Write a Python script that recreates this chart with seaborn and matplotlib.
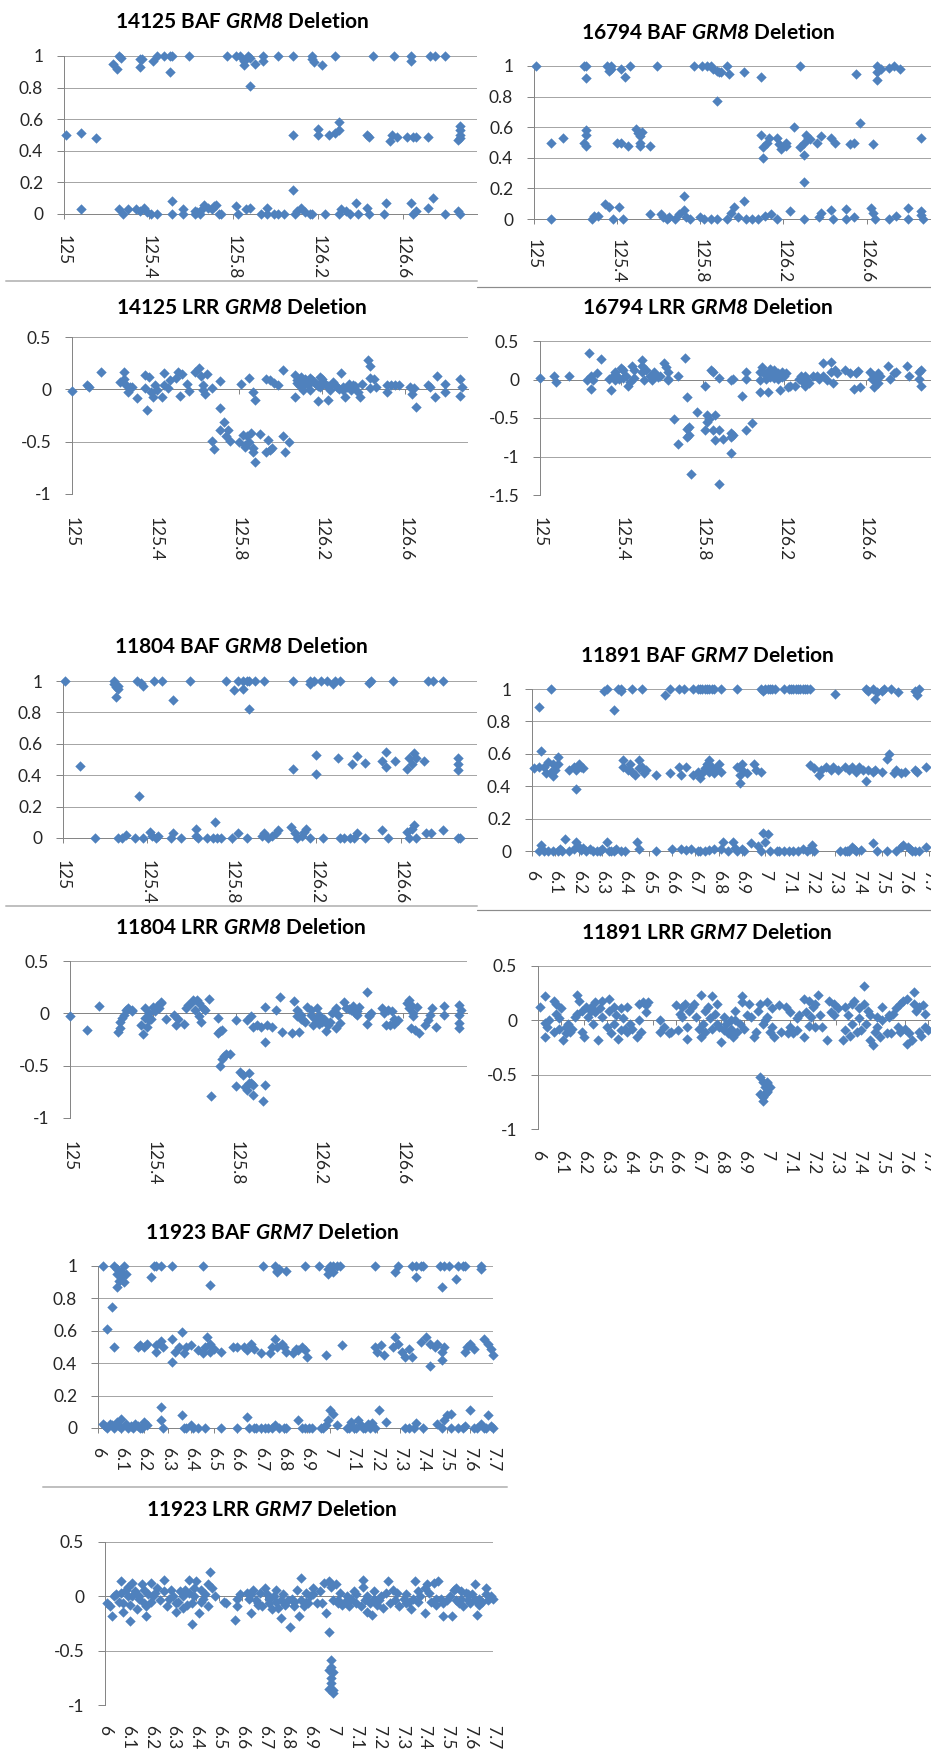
import matplotlib
matplotlib.use("Agg")
import matplotlib.pyplot as plt
import seaborn as sns
import pandas as pd
from matplotlib.lines import Line2D

# ---------------------------------------------------------------- data
# genomic position (Mb) and B-allele frequency / log R ratio per probe

GRM8_TICKS = ["125", "125.4", "125.8", "126.2", "126.6"]
GRM7_TICKS = ["6", "6.1", "6.2", "6.3", "6.4", "6.5", "6.6", "6.7", "6.8",
              "6.9", "7", "7.1", "7.2", "7.3", "7.4", "7.5", "7.6", "7.7"]
BAF_TICKS = ["0", "0.2", "0.4", "0.6", "0.8", "1"]
LRR_TICKS = ["-1", "-0.5", "0", "0.5"]
LRR_TICKS_WIDE = ["-1.5", "-1", "-0.5", "0", "0.5"]

BAF_14125 = [
    (125.23, 0.95), (125.25, 0.92), (125.26, 1.0), (125.27, 0.99), (125.36, 0.98), (125.36, 0.93),
    (125.37, 0.98), (125.42, 0.97), (125.44, 1.0), (125.47, 1.0), (125.5, 0.9), (125.5, 1.0),
    (125.51, 1.0), (125.59, 1.0), (125.77, 1.0), (125.81, 1.0), (125.83, 1.0), (125.85, 0.97),
    (125.85, 0.94), (125.87, 1.0), (125.88, 0.99), (125.9, 0.95), (125.88, 0.81), (125.94, 1.0),
    (125.94, 0.97), (126.01, 1.0), (126.08, 1.0), (126.17, 1.0), (126.17, 0.98), (126.18, 0.96),
    (126.22, 0.94), (126.28, 1.0), (126.46, 1.0), (126.56, 1.0), (126.64, 1.0), (126.64, 0.97),
    (126.73, 1.0), (126.75, 1.0), (126.8, 1.0),
    (125.01, 0.5), (125.08, 0.51), (125.15, 0.48), (126.08, 0.5), (126.2, 0.54), (126.2, 0.5),
    (126.25, 0.5), (126.28, 0.51), (126.3, 0.58), (126.3, 0.53), (126.43, 0.5), (126.44, 0.49),
    (126.54, 0.46), (126.55, 0.5), (126.57, 0.49), (126.62, 0.49), (126.65, 0.49), (126.66, 0.49),
    (126.72, 0.49), (126.87, 0.56), (126.87, 0.53), (126.87, 0.5), (126.87, 0.48), (126.86, 0.47),
    (125.08, 0.03), (126.08, 0.15), (125.26, 0.03), (125.28, 0.0), (125.3, 0.03), (125.34, 0.03),
    (125.36, 0.02), (125.38, 0.04), (125.39, 0.01), (125.41, 0.0), (125.44, 0.0), (125.51, 0.0),
    (125.51, 0.08), (125.56, 0.0), (125.56, 0.03), (125.62, 0.0), (125.62, 0.02), (125.63, 0.01),
    (125.64, 0.0), (125.65, 0.03), (125.66, 0.06), (125.68, 0.04), (125.7, 0.03), (125.71, 0.05),
    (125.72, 0.06), (125.73, 0.0), (125.74, 0.0), (125.81, 0.05), (125.82, 0.0), (125.86, 0.03),
    (125.88, 0.04), (125.93, 0.0), (125.96, 0.04), (125.96, 0.0), (125.99, 0.0), (126.01, 0.0),
    (126.04, 0.0), (126.09, 0.0), (126.1, 0.02), (126.12, 0.04), (126.14, 0.01), (126.16, 0.0),
    (126.17, 0.0), (126.23, 0.0), (126.3, 0.0), (126.31, 0.03), (126.33, 0.02), (126.35, 0.0),
    (126.38, 0.07), (126.39, 0.0), (126.43, 0.04), (126.44, 0.0), (126.51, 0.0), (126.52, 0.07),
    (126.64, 0.07), (126.65, 0.0), (126.66, 0.02), (126.72, 0.04), (126.74, 0.1), (126.8, 0.0),
    (126.86, 0.02), (126.87, 0.0),
]

BAF_16794 = [
    (125.01, 1.0), (125.24, 1.0), (125.25, 1.0), (125.25, 0.92), (125.35, 1.0), (125.36, 0.97),
    (125.37, 1.0), (125.37, 0.98), (125.42, 0.98), (125.44, 0.93), (125.46, 1.0), (125.59, 1.0),
    (125.77, 1.0), (125.81, 1.0), (125.83, 1.0), (125.85, 1.0), (125.86, 0.98), (125.88, 0.97),
    (125.89, 0.96), (125.9, 0.96), (125.88, 0.77), (125.93, 1.0), (125.94, 0.95), (126.01, 0.96),
    (126.09, 0.93), (126.28, 1.0), (126.55, 0.95), (126.65, 1.0), (126.65, 0.96), (126.67, 0.98),
    (126.65, 0.91), (126.71, 0.99), (126.73, 1.0), (126.76, 0.98),
    (125.08, 0.5), (125.14, 0.53), (125.25, 0.58), (125.25, 0.55), (125.24, 0.5), (125.25, 0.48),
    (125.4, 0.5), (125.42, 0.5), (125.45, 0.48), (125.49, 0.59), (125.5, 0.56), (125.51, 0.54),
    (125.52, 0.57), (125.51, 0.5), (125.51, 0.48), (125.56, 0.48), (126.09, 0.55), (126.1, 0.47),
    (126.1, 0.4), (126.12, 0.5), (126.13, 0.53), (126.17, 0.53), (126.18, 0.49), (126.19, 0.46),
    (126.21, 0.48), (126.21, 0.5), (126.25, 0.6), (126.28, 0.47), (126.3, 0.5), (126.3, 0.42),
    (126.31, 0.55), (126.32, 0.53), (126.33, 0.52), (126.36, 0.5), (126.38, 0.54), (126.3, 0.24),
    (126.43, 0.53), (126.45, 0.5), (126.52, 0.49), (126.54, 0.5), (126.57, 0.63), (126.63, 0.49),
    (126.86, 0.53),
    (125.08, 0.0), (125.28, 0.0), (125.29, 0.02), (125.31, 0.02), (125.34, 0.1), (125.36, 0.08),
    (125.38, 0.0), (125.41, 0.08), (125.43, 0.0), (125.56, 0.03), (125.61, 0.03), (125.62, 0.015),
    (125.64, 0.0), (125.65, 0.015), (125.68, 0.0), (125.7, 0.03), (125.72, 0.06), (125.72, 0.15),
    (125.73, 0.015), (125.75, 0.0), (125.8, 0.015), (125.82, 0.0), (125.85, 0.0), (125.88, 0.0),
    (125.93, 0.0), (125.95, 0.04), (125.96, 0.08), (125.98, 0.015), (126.01, 0.12), (126.02, 0.0),
    (126.05, 0.0), (126.08, 0.0), (126.11, 0.02), (126.14, 0.03), (126.17, 0.0), (126.23, 0.05),
    (126.3, 0.0), (126.37, 0.015), (126.38, 0.04), (126.43, 0.06), (126.44, 0.0), (126.5, 0.065),
    (126.5, 0.0), (126.54, 0.015), (126.62, 0.075), (126.63, 0.04), (126.64, 0.0), (126.71, 0.0),
    (126.74, 0.02), (126.8, 0.075), (126.8, 0.0), (126.86, 0.055), (126.86, 0.025), (126.87, 0.0),
]

LRR_14125 = [
    (125.0, -0.02), (125.07, 0.04), (125.08, 0.02), (125.14, 0.17), (125.23, 0.07), (125.25, 0.17),
    (125.25, 0.1), (125.26, 0.04), (125.27, -0.03), (125.28, 0.02), (125.29, 0.02), (125.31, -0.08),
    (125.35, 0.14), (125.35, 0.01), (125.36, -0.2), (125.37, 0.12), (125.38, -0.03), (125.39, -0.07),
    (125.4, 0.04), (125.41, -0.01), (125.43, -0.07), (125.44, 0.16), (125.44, 0.04), (125.46, 0.01),
    (125.47, 0.09), (125.5, 0.11), (125.51, 0.17), (125.52, -0.06), (125.53, 0.15), (125.55, 0.05),
    (125.56, -0.02), (125.59, 0.17), (125.61, 0.2), (125.62, 0.13), (125.63, 0.04), (125.63, -0.01),
    (125.64, -0.04), (125.65, 0.15), (125.67, 0.01), (125.71, 0.08), (125.71, -0.18),
    (125.67, -0.49), (125.68, -0.57), (125.71, -0.39), (125.73, -0.31), (125.74, -0.45), (125.75, -0.39),
    (125.76, -0.49), (125.8, -0.5), (125.82, -0.44), (125.83, -0.53), (125.83, -0.55), (125.84, -0.45),
    (125.85, -0.5), (125.86, -0.42), (125.87, -0.56), (125.87, -0.6), (125.88, -0.69), (125.9, -0.43),
    (125.94, -0.48), (125.93, -0.6), (125.95, -0.58), (125.96, -0.56), (126.01, -0.45), (126.02, -0.6),
    (126.04, -0.5),
    (125.81, 0.05), (125.85, 0.11), (125.87, -0.03), (125.88, -0.1), (125.93, 0.1), (125.95, 0.09),
    (125.97, 0.06), (125.99, 0.04), (126.01, 0.18),
    (126.07, 0.14), (126.08, 0.09), (126.07, -0.07), (126.09, 0.04), (126.1, 0.12), (126.11, -0.01),
    (126.12, 0.1), (126.13, 0.04), (126.14, -0.01), (126.15, 0.09), (126.17, 0.05), (126.18, -0.11),
    (126.19, 0.12), (126.19, 0.02), (126.2, 0.07), (126.22, 0.04), (126.23, -0.1), (126.24, -0.01),
    (126.26, 0.04), (126.27, 0.02), (126.29, 0.16), (126.3, -0.01), (126.31, -0.07), (126.32, 0.02),
    (126.34, -0.01), (126.35, 0.04), (126.38, -0.07), (126.39, 0.05), (126.42, 0.28), (126.43, 0.22),
    (126.43, 0.11), (126.43, 0.01), (126.45, 0.1), (126.46, 0.02), (126.51, 0.04), (126.51, -0.03),
    (126.53, 0.04), (126.55, 0.04), (126.57, 0.04), (126.62, 0.02), (126.63, -0.04), (126.64, 0.01),
    (126.65, -0.17), (126.71, 0.04), (126.72, 0.02), (126.74, -0.07), (126.75, 0.13), (126.79, 0.05),
    (126.79, -0.03), (126.86, 0.1), (126.86, -0.06), (126.87, 0.02),
    (126.08, 0.06), (126.1, 0.08), (126.12, 0.06), (126.14, 0.11), (126.16, 0.07), (126.18, 0.03),
    (126.2, 0.1), (126.21, 0.06), (126.23, 0.03), (126.25, 0.07), (126.28, 0.0), (126.3, 0.02),
    (126.33, 0.05), (126.36, 0.03), (126.37, -0.03),
]

LRR_16794 = [
    (125.0, 0.02), (125.07, 0.04), (125.08, -0.03), (125.14, 0.04), (125.23, -0.01), (125.24, 0.34),
    (125.25, 0.05), (125.25, -0.12), (125.26, -0.01), (125.28, 0.08), (125.3, 0.26),
    (125.34, 0.01), (125.35, -0.14), (125.36, 0.05), (125.37, -0.01), (125.37, 0.1), (125.38, 0.04),
    (125.39, 0.01), (125.4, 0.15), (125.41, 0.12), (125.41, 0.02), (125.42, 0.05), (125.43, -0.08),
    (125.44, -0.03), (125.45, 0.17), (125.46, 0.12), (125.46, 0.02), (125.5, 0.25), (125.5, 0.18),
    (125.5, 0.1), (125.51, 0.0), (125.52, 0.12), (125.54, 0.05), (125.55, 0.0), (125.56, 0.1),
    (125.58, 0.03), (125.59, 0.05), (125.61, 0.21), (125.62, 0.16), (125.63, 0.1), (125.63, 0.01),
    (125.63, -0.01), (125.68, 0.04),
    (125.71, 0.28), (125.66, -0.51), (125.68, -0.84), (125.72, -0.23), (125.72, -0.64), (125.73, -0.72),
    (125.73, -0.62), (125.72, -0.75), (125.74, -1.23), (125.77, -0.42), (125.81, -0.08), (125.81, -0.66),
    (125.82, -0.46), (125.82, -0.55), (125.83, -0.51), (125.84, 0.12), (125.85, 0.1), (125.85, -0.66),
    (125.86, -0.79), (125.86, -0.46), (125.88, 0.02), (125.88, -0.66), (125.88, -1.36), (125.9, -0.77),
    (125.94, -0.01), (125.95, 0.01), (125.94, -0.7), (125.94, -0.75), (125.95, -0.72), (125.94, -0.96),
    (125.99, -0.21), (126.01, 0.1), (126.01, 0.01), (126.01, -0.66), (126.04, -0.56),
    (126.08, 0.0), (126.08, 0.1), (126.08, -0.16), (126.09, 0.16), (126.1, 0.08), (126.11, 0.01),
    (126.12, -0.16), (126.12, 0.1), (126.13, 0.14), (126.14, 0.08), (126.15, 0.12), (126.16, 0.05),
    (126.17, 0.01), (126.18, -0.13), (126.19, 0.1), (126.2, 0.05), (126.21, 0.08), (126.22, -0.1),
    (126.23, -0.08), (126.25, -0.08), (126.27, 0.01), (126.28, 0.04), (126.29, -0.03), (126.3, -0.08),
    (126.3, 0.05), (126.31, -0.01), (126.32, -0.05), (126.34, 0.05), (126.36, 0.04), (126.37, 0.01),
    (126.39, 0.21), (126.39, 0.05), (126.41, -0.01), (126.43, 0.23), (126.43, 0.1), (126.44, -0.05),
    (126.45, 0.12), (126.46, 0.08), (126.5, 0.12), (126.52, 0.08), (126.54, -0.12), (126.55, 0.08),
    (126.56, 0.11), (126.57, -0.1), (126.62, 0.1), (126.63, 0.01), (126.64, -0.1), (126.65, 0.05),
    (126.65, -0.03), (126.66, 0.08), (126.67, 0.04), (126.71, 0.17), (126.72, 0.01), (126.74, 0.08),
    (126.75, 0.1), (126.8, 0.17), (126.81, 0.04), (126.86, 0.1), (126.86, 0.01), (126.87, -0.08),
    (126.87, 0.12),
    (126.11, 0.06), (126.13, 0.03), (126.15, 0.02), (126.17, 0.09), (126.19, 0.03), (126.64, 0.04),
    (126.66, -0.05),
]

BAF_11804 = [
    (125.01, 1.0), (125.24, 1.0), (125.24, 0.98), (125.25, 0.96), (125.26, 0.95), (125.25, 0.9),
    (125.26, 0.97), (125.35, 1.0), (125.37, 0.99), (125.38, 0.97), (125.43, 1.0), (125.47, 1.0),
    (125.52, 0.88), (125.6, 1.0), (125.77, 1.0), (125.81, 0.94), (125.83, 1.0), (125.85, 0.95),
    (125.85, 1.0), (125.87, 1.0), (125.88, 1.0), (125.91, 1.0), (125.95, 1.0), (125.88, 0.82),
    (126.09, 1.0), (126.17, 1.0), (126.17, 0.98), (126.19, 1.0), (126.22, 1.0), (126.25, 1.0),
    (126.28, 0.98), (126.29, 1.0), (126.31, 1.0), (126.45, 0.99), (126.46, 1.0), (126.56, 1.0),
    (126.73, 1.0), (126.75, 1.0), (126.8, 1.0),
    (125.08, 0.46), (126.09, 0.44), (126.2, 0.53), (126.2, 0.41), (126.3, 0.51), (126.37, 0.47),
    (126.39, 0.52), (126.43, 0.48), (126.51, 0.49), (126.53, 0.55), (126.53, 0.45), (126.57, 0.49),
    (126.63, 0.44), (126.64, 0.51), (126.65, 0.47), (126.66, 0.54), (126.67, 0.51), (126.71, 0.49),
    (126.87, 0.51), (126.87, 0.47), (126.87, 0.43), (125.36, 0.27),
    (125.15, 0.0), (125.26, 0.0), (125.28, 0.0), (125.3, 0.02), (125.34, 0.0), (125.38, 0.0),
    (125.41, 0.04), (125.42, 0.01), (125.44, 0.0), (125.45, 0.01), (125.51, 0.0), (125.52, 0.03),
    (125.56, 0.0), (125.63, 0.06), (125.63, 0.01), (125.64, 0.0), (125.68, 0.0), (125.71, 0.0),
    (125.72, 0.1), (125.73, 0.0), (125.75, 0.0), (125.8, 0.0), (125.83, 0.03), (125.87, 0.0),
    (125.94, 0.01), (125.95, 0.03), (125.97, 0.0), (125.99, 0.01), (126.01, 0.03), (126.02, 0.05),
    (126.08, 0.07), (126.1, 0.03), (126.11, 0.0), (126.13, 0.01), (126.14, 0.04), (126.15, 0.06),
    (126.17, 0.0), (126.23, 0.0), (126.31, 0.0), (126.33, 0.0), (126.36, 0.0), (126.38, 0.0),
    (126.39, 0.03), (126.43, 0.0), (126.51, 0.05), (126.54, 0.0), (126.63, 0.04), (126.64, 0.0),
    (126.65, 0.06), (126.66, 0.08), (126.67, 0.0), (126.72, 0.03), (126.74, 0.03), (126.8, 0.05),
    (126.87, 0.0), (126.88, 0.0),
]

BAF_11891 = [
    (6.03, 0.89), (6.08, 1.0), (6.31, 0.99), (6.32, 1.0), (6.35, 0.87), (6.37, 1.0), (6.38, 1.0),
    (6.38, 0.99), (6.43, 1.0), (6.47, 1.0), (6.57, 0.96), (6.59, 1.0), (6.63, 1.0), (6.65, 1.0),
    (6.69, 1.0), (6.71, 1.0), (6.73, 1.0), (6.74, 1.0), (6.76, 1.0), (6.77, 1.0), (6.78, 1.0),
    (6.81, 1.0), (6.88, 1.0), (6.98, 1.0), (6.99, 0.99), (7.0, 1.0), (7.03, 1.0), (7.04, 1.0),
    (7.08, 1.0), (7.1, 1.0), (7.11, 1.0), (7.13, 1.0), (7.14, 1.0), (7.16, 1.0), (7.17, 1.0),
    (7.19, 1.0), (7.3, 0.97), (7.43, 1.0), (7.44, 0.99), (7.46, 1.0), (7.47, 0.94), (7.48, 0.98),
    (7.5, 0.99), (7.51, 1.0), (7.54, 1.0), (7.57, 0.98), (7.64, 0.99), (7.65, 0.96), (7.66, 1.0),
    (6.72, 1.0), (6.75, 1.0), (7.12, 1.0), (7.15, 1.0), (7.18, 1.0), (7.01, 1.0), (7.02, 1.0),
    (6.01, 0.51), (6.04, 0.62), (6.03, 0.52), (6.05, 0.52), (6.06, 0.48), (6.07, 0.55), (6.08, 0.49),
    (6.09, 0.46), (6.09, 0.54), (6.1, 0.5), (6.11, 0.58), (6.11, 0.54), (6.16, 0.5), (6.18, 0.52),
    (6.19, 0.5), (6.19, 0.38), (6.2, 0.54), (6.21, 0.52), (6.22, 0.51),
    (6.39, 0.56), (6.39, 0.52), (6.41, 0.5), (6.42, 0.54), (6.43, 0.49), (6.44, 0.47), (6.46, 0.51),
    (6.46, 0.56), (6.47, 0.52), (6.48, 0.48), (6.49, 0.5), (6.53, 0.47), (6.59, 0.48), (6.63, 0.52),
    (6.64, 0.47), (6.66, 0.52),
    (6.69, 0.47), (6.71, 0.49), (6.72, 0.45), (6.73, 0.48), (6.74, 0.51), (6.75, 0.54), (6.76, 0.49),
    (6.76, 0.56), (6.77, 0.52), (6.78, 0.48), (6.79, 0.51), (6.8, 0.54), (6.81, 0.49),
    (6.88, 0.52), (6.89, 0.47), (6.89, 0.42), (6.9, 0.54), (6.9, 0.5), (6.92, 0.48), (6.95, 0.54),
    (6.96, 0.5), (6.98, 0.49),
    (7.19, 0.53), (7.21, 0.51), (7.23, 0.47), (7.24, 0.5), (7.26, 0.52), (7.28, 0.5), (7.29, 0.52),
    (7.31, 0.5), (7.34, 0.52), (7.36, 0.5), (7.37, 0.52), (7.39, 0.49), (7.4, 0.52), (7.42, 0.5),
    (7.43, 0.43), (7.44, 0.5), (7.46, 0.49), (7.47, 0.5), (7.5, 0.49), (7.52, 0.57), (7.53, 0.6),
    (7.55, 0.48), (7.56, 0.5), (7.58, 0.48), (7.6, 0.49), (7.64, 0.5), (7.65, 0.49), (7.69, 0.52),
    (6.04, 0.035), (6.03, 0.0), (6.07, 0.0), (6.09, 0.0), (6.11, 0.0), (6.12, 0.015), (6.14, 0.076),
    (6.16, 0.0), (6.18, 0.015), (6.19, 0.056), (6.2, 0.025), (6.21, 0.004), (6.23, 0.0), (6.25, 0.015),
    (6.26, 0.0), (6.28, 0.0), (6.29, 0.0), (6.32, 0.056), (6.34, 0.0), (6.35, 0.0), (6.36, 0.015),
    (6.38, 0.0), (6.4, 0.0), (6.45, 0.056), (6.46, 0.015), (6.53, 0.0), (6.6, 0.015), (6.64, 0.015),
    (6.66, 0.008), (6.71, 0.0), (6.74, 0.0), (6.76, 0.008), (6.81, 0.015), (6.82, 0.056), (6.84, 0.0),
    (6.86, 0.056), (6.88, 0.0), (6.9, 0.015), (6.91, 0.0), (6.94, 0.05), (6.98, 0.0), (6.99, 0.11),
    (7.0, 0.056), (7.01, 0.107), (7.02, 0.0), (7.05, 0.0), (7.08, 0.0), (7.1, 0.0), (7.14, 0.0),
    (7.16, 0.015), (7.18, 0.0), (7.2, 0.04), (7.21, 0.0), (7.32, 0.0), (7.35, 0.0), (7.37, 0.025),
    (7.39, 0.0), (7.41, 0.008), (7.46, 0.05), (7.48, 0.0), (7.52, 0.0), (7.56, 0.0), (7.58, 0.025),
    (7.59, 0.04), (7.61, 0.025), (7.63, 0.0), (7.66, 0.0), (7.69, 0.025),
    (6.05, 0.0), (6.13, 0.0), (6.22, 0.02), (6.3, 0.01), (6.33, 0.0), (6.68, 0.01), (6.72, 0.0),
    (6.78, 0.01), (6.87, 0.02), (6.97, 0.03), (7.06, 0.0), (7.12, 0.0), (7.19, 0.01), (7.34, 0.0),
    (7.36, 0.0), (7.38, 0.01), (7.62, 0.01), (7.64, 0.0),
]

LRR_11804 = [
    (125.0, -0.03), (125.08, -0.16), (125.14, 0.07), (125.23, -0.18), (125.24, -0.14), (125.24, -0.08),
    (125.25, -0.04), (125.26, -0.02), (125.27, 0.03), (125.28, 0.05), (125.3, 0.02), (125.3, 0.03),
    (125.34, -0.11), (125.35, -0.2), (125.36, 0.05), (125.36, -0.04), (125.37, -0.13), (125.38, -0.06),
    (125.38, 0.0), (125.39, -0.05), (125.4, 0.06), (125.41, 0.02), (125.42, 0.07), (125.43, 0.05),
    (125.44, 0.1), (125.44, 0.11), (125.46, -0.05),
    (125.5, -0.02), (125.51, -0.11), (125.52, -0.05), (125.55, -0.1), (125.56, 0.05), (125.57, 0.08),
    (125.58, 0.1), (125.59, 0.13), (125.6, 0.03), (125.61, 0.13), (125.62, 0.1), (125.62, -0.03),
    (125.63, -0.08), (125.64, 0.05), (125.65, 0.03), (125.67, 0.14),
    (125.68, -0.79), (125.71, -0.04), (125.71, -0.19), (125.72, -0.17), (125.73, -0.16), (125.72, -0.5),
    (125.73, -0.44), (125.74, -0.41), (125.75, -0.39), (125.77, -0.39), (125.8, -0.06), (125.8, -0.69),
    (125.82, -0.56), (125.83, -0.59), (125.84, -0.7), (125.85, -0.73), (125.86, -0.57), (125.86, -0.67),
    (125.87, -0.67), (125.88, -0.78), (125.88, -0.68), (125.85, -0.06), (125.87, -0.03), (125.88, -0.13),
    (125.9, -0.11), (125.92, -0.13), (125.93, -0.84), (125.94, -0.68), (125.94, -0.27), (125.94, 0.06),
    (125.95, -0.11), (125.97, -0.13), (125.99, 0.03), (126.01, 0.16), (126.02, -0.18),
    (126.07, -0.19), (126.08, 0.12), (126.09, 0.03), (126.1, -0.18), (126.11, -0.02), (126.11, -0.05),
    (126.13, -0.08), (126.14, 0.06), (126.16, 0.03), (126.16, -0.02), (126.17, -0.11), (126.18, -0.05),
    (126.19, 0.05), (126.2, -0.02), (126.2, -0.1), (126.21, -0.08), (126.23, -0.17), (126.24, -0.11),
    (126.25, -0.08), (126.28, -0.14), (126.28, 0.05), (126.29, -0.02), (126.3, -0.09), (126.32, 0.11),
    (126.33, 0.05), (126.35, 0.03), (126.36, 0.07), (126.37, 0.0), (126.38, -0.02), (126.39, 0.06),
    (126.43, 0.2), (126.43, -0.1), (126.44, -0.02), (126.44, -0.03), (126.45, 0.0), (126.5, 0.05),
    (126.51, 0.0), (126.52, -0.11), (126.53, 0.03), (126.54, -0.11), (126.56, -0.05), (126.56, -0.1),
    (126.58, -0.06), (126.63, 0.13), (126.64, -0.14), (126.64, 0.08), (126.65, 0.0), (126.66, -0.16),
    (126.67, 0.06), (126.68, -0.19), (126.71, -0.11), (126.72, -0.06), (126.73, -0.02), (126.74, 0.05),
    (126.76, -0.13), (126.8, 0.07), (126.8, -0.02), (126.87, 0.08), (126.87, -0.02), (126.87, -0.09),
    (126.87, -0.14), (126.88, 0.03),
    (126.09, -0.03), (126.12, -0.06), (126.22, -0.05), (126.26, 0.0), (126.34, 0.04), (126.38, 0.02),
    (126.55, 0.02), (126.62, 0.1), (126.63, 0.05), (126.65, -0.03),
]

LRR_11891 = [
    (6.01, 0.12), (6.03, 0.22), (6.03, -0.02), (6.03, -0.15), (6.04, -0.06), (6.05, 0.0), (6.07, -0.11),
    (6.07, 0.18), (6.08, 0.06), (6.08, 0.15), (6.09, -0.08), (6.09, 0.02), (6.1, 0.11), (6.11, -0.18),
    (6.12, -0.12), (6.12, -0.06), (6.13, -0.03), (6.14, -0.11), (6.15, -0.08), (6.16, 0.03), (6.17, 0.23),
    (6.17, 0.06), (6.18, 0.18), (6.19, -0.11), (6.19, 0.09), (6.2, -0.15), (6.21, 0.12), (6.22, 0.03),
    (6.23, 0.09), (6.23, 0.12), (6.24, -0.03), (6.25, 0.08), (6.25, 0.17), (6.26, -0.18), (6.27, 0.11),
    (6.28, 0.18), (6.28, 0.03), (6.3, -0.06), (6.31, 0.09), (6.31, 0.2), (6.32, -0.12), (6.33, 0.12),
    (6.33, -0.03), (6.34, 0.05), (6.35, -0.17), (6.36, -0.09), (6.36, 0.11), (6.37, 0.02), (6.38, -0.08),
    (6.39, 0.12), (6.39, -0.11), (6.4, -0.03), (6.41, -0.08), (6.43, -0.15), (6.44, 0.0), (6.44, 0.15),
    (6.45, -0.11), (6.46, 0.17), (6.47, 0.08), (6.47, 0.14), (6.48, 0.17), (6.53, 0.0), (6.53, -0.11),
    (6.55, -0.06), (6.57, -0.12), (6.58, -0.11), (6.6, 0.14), (6.61, -0.09), (6.62, 0.06), (6.63, 0.12),
    (6.63, 0.03), (6.64, 0.15), (6.65, -0.06), (6.65, -0.17), (6.66, 0.09), (6.67, 0.12), (6.68, 0.15),
    (6.69, 0.03), (6.7, -0.08), (6.71, -0.15), (6.71, 0.23), (6.72, -0.03), (6.73, 0.09), (6.73, -0.11),
    (6.74, 0.12), (6.75, 0.02), (6.76, -0.08), (6.76, 0.22), (6.77, 0.06), (6.78, 0.15), (6.78, -0.03),
    (6.79, -0.06), (6.8, -0.2), (6.81, -0.09), (6.81, 0.03), (6.82, -0.03), (6.83, -0.12), (6.84, -0.08),
    (6.84, 0.0), (6.85, -0.15), (6.86, 0.09), (6.86, 0.0), (6.87, -0.11), (6.88, -0.03), (6.89, 0.17),
    (6.89, 0.22), (6.9, -0.08), (6.91, 0.05), (6.92, 0.15), (6.93, 0.03), (6.94, -0.15), (6.95, -0.11),
    (6.96, 0.09), (6.97, 0.15), (6.98, -0.03), (6.99, 0.0), (7.0, 0.17), (7.0, 0.03), (7.01, -0.11),
    (7.02, 0.11), (7.02, -0.06), (7.03, -0.15), (7.05, 0.14), (7.06, -0.11), (7.08, 0.12), (7.09, -0.12),
    (7.1, -0.06), (7.1, 0.08), (7.11, -0.12), (7.13, -0.09), (7.13, 0.02), (7.14, 0.05), (7.16, 0.2),
    (7.16, -0.15), (7.17, 0.08), (7.18, -0.05), (7.18, 0.18), (7.19, 0.03), (7.2, 0.12), (7.21, -0.06),
    (7.21, 0.15), (7.22, 0.23), (7.23, 0.05), (7.24, -0.06), (7.26, -0.18), (7.27, 0.18), (7.28, 0.08),
    (7.29, 0.05), (7.29, 0.15), (7.31, 0.11), (7.33, -0.18), (7.34, 0.12), (7.34, -0.09), (7.35, 0.05),
    (7.36, -0.14), (7.37, 0.15), (7.37, -0.03), (7.38, 0.18), (7.39, -0.11), (7.4, 0.02), (7.4, 0.11),
    (7.41, -0.09), (7.42, 0.32), (7.42, 0.15), (7.43, -0.03), (7.44, 0.09), (7.45, 0.05), (7.45, -0.18),
    (7.46, -0.23), (7.47, -0.11), (7.48, -0.06), (7.48, 0.03), (7.49, -0.15), (7.5, 0.0), (7.5, 0.12),
    (7.52, -0.12), (7.53, 0.05), (7.53, 0.03), (7.54, -0.12), (7.55, 0.06), (7.56, 0.11), (7.57, -0.06),
    (7.58, 0.15), (7.58, -0.11), (7.59, 0.18), (7.6, -0.08), (7.61, -0.22), (7.61, 0.2), (7.62, -0.12),
    (7.63, -0.18), (7.64, 0.15), (7.64, 0.26), (7.65, 0.09), (7.66, 0.12), (7.66, -0.11), (7.67, -0.14),
    (7.68, 0.14), (7.69, 0.06), (7.69, -0.06), (7.7, -0.09),
    (6.97, -0.52), (6.98, -0.57), (6.99, -0.61), (7.0, -0.65), (6.97, -0.68), (6.98, -0.71),
    (6.98, -0.74), (6.99, -0.68), (7.0, -0.57), (7.0, -0.58), (7.01, -0.61), (7.0, -0.66),
]

BAF_11923 = [
    (6.02, 1.0), (6.07, 1.0), (6.08, 0.98), (6.08, 0.95), (6.09, 0.91), (6.08, 0.87), (6.1, 0.93),
    (6.1, 0.96), (6.11, 1.0), (6.12, 0.95), (6.11, 0.9), (6.23, 0.93), (6.24, 1.0), (6.25, 1.0),
    (6.27, 1.0), (6.32, 1.0), (6.45, 1.0), (6.48, 0.88), (6.71, 1.0), (6.76, 1.0), (6.77, 0.97),
    (6.77, 0.96), (6.78, 0.98), (6.81, 0.97), (6.89, 1.0), (6.95, 1.0), (6.99, 0.95), (6.99, 0.98),
    (7.0, 1.0), (7.01, 0.96), (7.01, 1.0), (7.03, 1.0), (7.04, 1.0), (7.19, 1.0), (7.28, 0.96),
    (7.29, 1.0), (7.35, 1.0), (7.37, 0.93), (7.37, 1.0), (7.39, 1.0), (7.4, 1.0), (7.47, 1.0),
    (7.48, 0.87), (7.49, 1.0), (7.51, 1.0), (7.54, 0.92), (7.55, 1.0), (7.57, 1.0), (7.58, 1.0),
    (7.65, 1.0), (7.65, 0.98),
    (6.04, 0.61), (6.06, 0.75), (6.07, 0.5), (6.17, 0.5), (6.18, 0.51), (6.2, 0.5), (6.21, 0.52),
    (6.25, 0.51), (6.25, 0.47), (6.27, 0.54), (6.28, 0.5), (6.32, 0.41), (6.32, 0.55), (6.33, 0.47),
    (6.35, 0.5), (6.36, 0.59), (6.37, 0.46), (6.38, 0.5), (6.4, 0.51), (6.43, 0.48), (6.45, 0.46),
    (6.46, 0.5), (6.47, 0.56), (6.48, 0.52), (6.48, 0.47), (6.5, 0.49), (6.53, 0.47), (6.58, 0.5),
    (6.6, 0.5), (6.63, 0.5), (6.64, 0.48), (6.66, 0.52), (6.67, 0.49), (6.7, 0.46), (6.74, 0.46),
    (6.75, 0.5), (6.76, 0.55), (6.77, 0.5), (6.79, 0.52), (6.8, 0.5), (6.81, 0.47), (6.84, 0.46),
    (6.85, 0.49), (6.86, 0.48), (6.88, 0.5), (6.89, 0.48), (6.9, 0.44), (6.98, 0.45), (7.05, 0.51),
    (7.19, 0.5), (7.2, 0.47), (7.22, 0.51), (7.23, 0.45), (7.27, 0.5), (7.28, 0.56), (7.29, 0.52),
    (7.31, 0.47), (7.32, 0.44), (7.34, 0.49), (7.35, 0.44), (7.39, 0.53), (7.41, 0.56), (7.43, 0.38),
    (7.43, 0.52), (7.45, 0.5), (7.46, 0.52), (7.48, 0.47), (7.48, 0.42), (7.49, 0.5), (7.58, 0.47),
    (7.59, 0.5), (7.6, 0.52), (7.62, 0.49), (7.66, 0.55), (7.68, 0.52), (7.69, 0.49), (7.7, 0.45),
    (6.02, 0.027), (6.04, 0.0), (6.05, 0.023), (6.07, 0.0), (6.08, 0.037), (6.1, 0.0), (6.1, 0.058),
    (6.12, 0.023), (6.13, 0.0), (6.15, 0.0), (6.16, 0.023), (6.18, 0.0), (6.19, 0.0), (6.2, 0.037),
    (6.27, 0.13), (6.27, 0.047), (6.28, 0.0), (6.36, 0.078), (6.38, 0.0), (6.4, 0.016), (6.43, 0.0),
    (6.46, 0.0), (6.53, 0.0), (6.6, 0.0), (6.64, 0.068), (6.65, 0.0), (6.67, 0.0), (6.7, 0.0),
    (6.73, 0.0), (6.76, 0.016), (6.78, 0.0), (6.81, 0.0), (6.86, 0.047), (6.89, 0.0), (6.91, 0.0),
    (6.92, 0.0), (6.96, 0.0), (6.98, 0.016), (6.99, 0.047), (7.0, 0.11), (7.01, 0.088), (7.03, 0.016),
    (7.07, 0.0), (7.09, 0.037), (7.1, 0.0), (7.12, 0.047), (7.14, 0.0), (7.16, 0.027), (7.17, 0.0),
    (7.19, 0.0), (7.21, 0.11), (7.24, 0.037), (7.32, 0.0), (7.34, 0.0), (7.37, 0.031), (7.4, 0.0),
    (7.46, 0.027), (7.49, 0.047), (7.5, 0.078), (7.52, 0.088), (7.52, 0.0), (7.55, 0.0), (7.57, 0.0),
    (7.6, 0.11), (7.62, 0.0), (7.65, 0.027), (7.67, 0.0), (7.68, 0.078), (7.7, 0.0),
    (6.03, 0.01), (6.06, 0.02), (6.09, 0.01), (6.14, 0.01), (6.17, 0.01), (6.21, 0.02), (6.37, 0.0),
    (6.41, 0.0), (6.68, 0.0), (6.72, 0.0), (6.75, 0.0), (6.8, 0.0), (6.88, 0.0), (6.97, 0.0),
    (7.08, 0.0), (7.11, 0.0), (7.13, 0.02), (7.15, 0.0), (7.18, 0.03), (7.36, 0.0), (7.48, 0.0),
    (7.58, 0.01), (7.63, 0.0), (7.66, 0.0), (7.69, 0.01),
]

LRR_11923 = [
    (6.01, -0.06), (6.02, -0.09), (6.03, -0.18), (6.04, 0.0), (6.05, 0.02), (6.06, -0.05), (6.07, 0.03),
    (6.07, 0.14), (6.08, -0.14), (6.08, -0.06), (6.09, 0.06), (6.1, 0.0), (6.1, 0.09), (6.11, -0.23),
    (6.11, -0.08), (6.12, 0.12), (6.12, 0.0), (6.13, 0.05), (6.14, -0.12), (6.15, -0.02), (6.15, 0.0),
    (6.16, 0.11), (6.17, -0.06), (6.17, 0.06), (6.18, -0.09), (6.18, -0.18), (6.19, 0.02), (6.2, -0.05),
    (6.2, 0.12), (6.21, 0.0), (6.22, 0.03), (6.23, 0.08), (6.24, -0.03), (6.26, 0.15), (6.26, 0.05),
    (6.27, -0.09), (6.28, -0.02), (6.29, 0.06), (6.3, 0.0), (6.31, -0.06), (6.31, -0.14), (6.32, -0.05),
    (6.33, 0.05), (6.34, -0.11), (6.34, 0.0), (6.35, 0.06), (6.36, -0.08), (6.37, 0.15), (6.37, 0.03),
    (6.38, -0.06), (6.38, -0.25), (6.39, 0.0), (6.39, 0.08), (6.4, 0.14), (6.41, -0.15), (6.42, -0.05),
    (6.42, 0.06), (6.43, -0.02), (6.44, 0.02), (6.45, 0.11), (6.45, -0.09), (6.46, 0.22), (6.47, 0.08),
    (6.48, 0.0), (6.52, -0.05), (6.53, -0.06), (6.57, -0.22), (6.58, -0.09), (6.58, -0.02), (6.59, 0.02),
    (6.62, 0.03), (6.63, -0.02), (6.64, -0.15), (6.64, 0.02), (6.65, 0.06), (6.66, -0.03), (6.67, -0.08),
    (6.67, -0.06), (6.68, 0.03), (6.69, -0.09), (6.7, 0.08), (6.71, 0.02), (6.72, -0.02), (6.72, -0.06),
    (6.73, -0.12), (6.74, 0.0), (6.75, 0.06), (6.75, -0.05), (6.76, -0.11), (6.77, -0.2), (6.77, -0.03),
    (6.78, 0.02), (6.79, -0.08), (6.8, -0.03), (6.81, -0.28), (6.82, -0.02), (6.83, -0.09), (6.83, -0.05),
    (6.84, 0.06), (6.85, -0.18), (6.86, 0.17), (6.86, -0.03), (6.87, -0.09), (6.88, 0.03), (6.88, -0.05),
    (6.89, -0.06), (6.9, 0.0), (6.91, 0.08), (6.91, 0.02), (6.93, -0.06),
    (6.98, -0.33), (6.99, -0.59), (6.99, -0.65), (6.98, -0.68), (7.0, -0.7), (6.99, -0.75), (6.99, -0.8),
    (6.98, -0.85), (7.0, -0.86), (7.0, -0.89),
    (6.94, 0.05), (6.95, -0.06), (6.96, 0.12), (6.97, -0.15), (6.98, 0.14), (6.99, 0.09), (6.99, 0.11),
    (7.0, -0.03), (7.01, 0.11), (7.02, -0.06), (7.02, -0.03), (7.03, 0.03), (7.04, -0.08), (7.05, -0.05),
    (7.06, 0.0), (7.07, -0.09), (7.08, -0.02), (7.09, 0.05), (7.1, -0.06), (7.1, 0.02), (7.12, -0.09),
    (7.13, 0.09), (7.13, 0.15), (7.14, -0.03), (7.15, -0.14), (7.15, 0.0), (7.16, -0.06), (7.17, -0.17),
    (7.18, -0.02), (7.18, 0.05), (7.19, -0.08), (7.2, -0.03), (7.21, 0.0), (7.22, -0.11), (7.23, 0.03),
    (7.24, 0.14), (7.25, -0.06), (7.26, 0.06), (7.27, -0.03), (7.28, 0.03), (7.29, -0.09), (7.31, -0.02),
    (7.32, -0.06), (7.32, 0.02), (7.33, -0.05), (7.34, -0.12), (7.35, -0.02), (7.36, 0.14), (7.37, 0.05),
    (7.37, -0.05), (7.38, 0.0), (7.4, 0.08), (7.4, -0.15), (7.41, 0.11), (7.42, 0.03), (7.43, -0.05),
    (7.44, 0.12), (7.45, -0.02), (7.45, -0.08), (7.46, 0.14), (7.47, -0.02), (7.48, -0.18), (7.48, -0.06),
    (7.5, -0.03), (7.51, 0.0), (7.52, -0.18), (7.53, 0.06), (7.54, -0.03), (7.54, 0.08), (7.55, -0.06),
    (7.56, 0.05), (7.56, -0.02), (7.57, -0.09), (7.58, 0.03), (7.59, -0.03), (7.59, 0.02), (7.6, -0.06),
    (7.61, 0.02), (7.62, 0.11), (7.62, -0.03), (7.63, -0.17), (7.64, -0.08), (7.64, -0.02), (7.65, -0.05),
    (7.67, 0.08), (7.67, 0.02), (7.68, -0.03), (7.69, 0.0), (7.7, -0.02),
]

# ---------------------------------------------------------------- style
sns.set_theme(style="white")
plt.rcParams["font.family"] = ["Lato", "DejaVu Sans"]
# the gene symbol is the only math run in each title: set it in bold italic
plt.rcParams["mathtext.fontset"] = "custom"
plt.rcParams["mathtext.it"] = "Lato:italic:bold"
plt.rcParams["mathtext.rm"] = "Lato:italic:bold"
plt.rcParams["mathtext.bf"] = "Lato:italic:bold"
plt.rcParams["axes.unicode_minus"] = False

BLUE = "#4F81BD"
GRID = "#a6a6a6"
AXIS = "#868686"
TXT = "#262626"
PX = 0.72  # one pixel in points at 100 dpi

W, H = 931, 1753
fig = plt.figure(figsize=(W / 100, H / 100), dpi=100)
fig.patch.set_facecolor("white")

# panel layout: (data, title, box px [l, t, r, b], xlim, x labels, y labels,
#                title centre x, title baseline y, x-label pad pt, kind)
PANELS = [
    (BAF_14125, "14125 BAF $GRM8$ Deletion", (64, 56, 477, 214), (125, 126.95),
     GRM8_TICKS, BAF_TICKS, 242, 28, 11.5, "BAF"),
    (BAF_16794, "16794 BAF $GRM8$ Deletion", (534, 66, 931, 219), (125, 126.91),
     GRM8_TICKS, BAF_TICKS, 708, 39, 10.5, "BAF"),
    (LRR_14125, "14125 LRR $GRM8$ Deletion", (72, 337, 468, 494), (125, 126.9),
     GRM8_TICKS, LRR_TICKS, 242, 314, 16.5, "LRR"),
    (LRR_16794, "16794 LRR $GRM8$ Deletion", (540, 341, 931, 495), (125, 126.92),
     GRM8_TICKS, LRR_TICKS_WIDE, 708, 314, 16, "LRR"),
    (BAF_11804, "11804 BAF $GRM8$ Deletion", (63, 681, 477, 838), (125, 126.96),
     GRM8_TICKS, BAF_TICKS, 241, 653, 12, "BAF"),
    (BAF_11891, "11891 BAF $GRM7$ Deletion", (532, 689, 931, 851), (6, 7.71),
     GRM7_TICKS, BAF_TICKS, 707, 662, 10, "BAF"),
    (LRR_11804, "11804 LRR $GRM8$ Deletion", (70, 961, 467, 1118), (125, 126.91),
     GRM8_TICKS, LRR_TICKS, 241, 934, 16.5, "LRR"),
    (LRR_11891, "11891 LRR $GRM7$ Deletion", (538, 966, 931, 1129), (6, 7.714),
     GRM7_TICKS, LRR_TICKS, 707, 939, 15, "LRR"),
    (BAF_11923, "11923 BAF $GRM7$ Deletion", (98, 1266, 493, 1428), (6, 7.7),
     GRM7_TICKS, BAF_TICKS, 272, 1239, 10, "BAF"),
    (LRR_11923, "11923 LRR $GRM7$ Deletion", (105, 1542, 493, 1705), (6, 7.7),
     GRM7_TICKS, LRR_TICKS, 272, 1516, 14.5, "LRR"),
]


def draw_panel(points, title, box, xlim, xlabels, ylabels, tx, ty, xpad, kind):
    l, t, r, b = box
    ax = fig.add_axes([l / W, 1 - b / H, (r - l) / W, (b - t) / H])
    df = pd.DataFrame(points, columns=["pos", "val"])
    sns.scatterplot(data=df, x="pos", y="val", marker="D", s=28, color=BLUE,
                    linewidth=0, ax=ax, clip_on=False, zorder=3, legend=False)

    yt = [float(v) for v in ylabels]
    xt = [float(v) for v in xlabels]
    ax.set_xlim(*xlim)
    ax.set_ylim(yt[0], yt[-1])
    ax.set_xlabel("")
    ax.set_ylabel("")

    ax.set_yticks(yt, ylabels)
    ax.grid(axis="y", color=GRID, lw=PX)
    ax.grid(axis="x", visible=False)
    ax.set_axisbelow(True)
    for side in ("top", "right"):
        ax.spines[side].set_visible(False)
    ax.spines["left"].set_color(AXIS)
    ax.spines["left"].set_linewidth(PX)
    ax.spines["bottom"].set_color(AXIS)
    ax.spines["bottom"].set_linewidth(PX)
    ax.spines["bottom"].set_position(("data", 0))
    ax.tick_params(axis="y", direction="out", length=5, width=PX, color=AXIS,
                   pad=10, labelsize=12.5, labelcolor=TXT, left=True)

    ax.set_xticks(xt)
    ax.tick_params(axis="x", direction="out", length=3.6, width=PX, color=AXIS,
                   bottom=True)
    if kind == "BAF":
        ax.set_xticklabels(xlabels, rotation=-90)
        ax.tick_params(axis="x", pad=xpad, labelsize=12.5, labelcolor=TXT)
    else:
        ax.tick_params(axis="x", labelbottom=False)
        sec = ax.secondary_xaxis("bottom")
        sec.set_xticks(xt, xlabels, rotation=-90)
        sec.tick_params(axis="x", length=0, pad=xpad, labelsize=12.5, labelcolor=TXT)
        sec.spines["bottom"].set_visible(False)

    fig.text(tx / W, 1 - ty / H, title, ha="center", va="baseline",
             fontsize=15, fontweight="bold", color="black")


for spec in PANELS:
    draw_panel(*spec)

# chart-area borders between stacked charts
SEPARATORS = [
    ((6, 477), 281, "#c0c0c0", 2.0),
    ((477, 931), 287, "#8c8c8c", 1.2),
    ((6, 477), 906, "#c0c0c0", 2.0),
    ((477, 931), 910, "#8c8c8c", 1.2),
    ((43, 507), 1487, "#c0c0c0", 2.0),
]
for (x0, x1), y, col, w in SEPARATORS:
    fig.add_artist(Line2D([x0 / W, x1 / W], [1 - y / H, 1 - y / H],
                          transform=fig.transFigure, color=col, lw=w * PX))

fig.savefig("out.png", dpi=100, facecolor="white")
